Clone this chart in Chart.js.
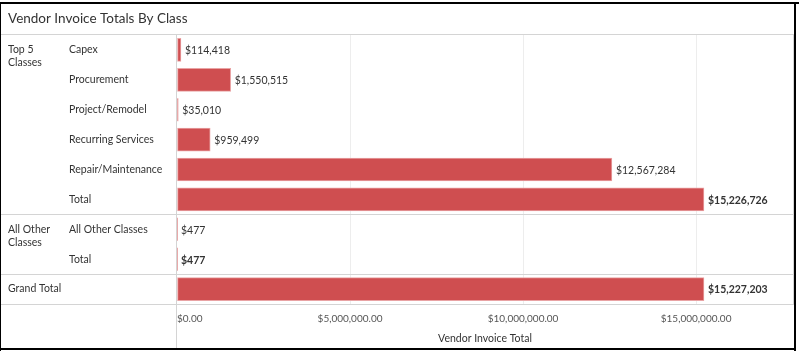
<!DOCTYPE html>
<html>
<head>
<meta charset="utf-8">
<script src="https://cdn.jsdelivr.net/npm/chart.js@4"></script>
<style>
  html, body { margin: 0; background: #fff; }
  #wrap { width: 799px; height: 352px; }
</style>
</head>
<body>
<div id="wrap"><canvas id="vendorChart" width="799" height="352"></canvas></div>
<script>
// data
const chartTitle = 'Vendor Invoice Totals By Class';
const classLabels = ['Capex', 'Procurement', 'Project/Remodel', 'Recurring Services',
  'Repair/Maintenance', 'Total', 'All Other Classes', 'Total', ''];
const invoiceTotals = [114418, 1550515, 35010, 959499, 12567284, 15226726, 477, 477, 15227203];
const groupLabels = [['Top 5', 'Classes'], ['All Other', 'Classes'], ['Grand Total']];
const groupFirstRow = [0, 6, 8];
const totalRows = [5, 7, 8];
const xTickValues = [0, 5000000, 10000000, 15000000];
const xAxisTitle = 'Vendor Invoice Total';

const FONT = 'Lato, "Open Sans", sans-serif';
const money = v => '$' + v.toLocaleString('en-US');
const moneyTick = v => '$' + v.toLocaleString('en-US', {minimumFractionDigits: 2, maximumFractionDigits: 2});

// draws the table parts round the bars: title, row headers, separators, value labels, axis text
const tablePlugin = {
  id: 'tableLayout',
  afterDraw(chart) {
    const {ctx, chartArea: a, scales: {x, y}} = chart;
    ctx.save();

    // title
    ctx.fillStyle = '#333';
    ctx.font = '13.5px ' + FONT;
    ctx.textBaseline = 'alphabetic';
    ctx.textAlign = 'left';
    ctx.fillText(chartTitle, 8, 23);

    // separators
    ctx.fillStyle = '#d4d4d4';
    ctx.fillRect(1, a.top - 1, a.right, 1);
    groupFirstRow.forEach(g => {
      if (g === 0) return;
      const yb = Math.round((y.getPixelForValue(g - 1) + y.getPixelForValue(g)) / 2);
      ctx.fillRect(1, yb, a.right, 1);
    });
    ctx.fillRect(1, a.bottom, a.right, 1);
    ctx.fillRect(a.left - 1, a.top - 1, 1, 349 - a.top);
    ctx.fillRect(a.right, a.top - 1, 1, a.bottom - a.top + 2);

    // row headers
    ctx.fillStyle = '#333';
    ctx.font = '10.5px ' + FONT;
    ctx.textBaseline = 'middle';
    groupLabels.forEach((lines, i) => {
      const y0 = y.getPixelForValue(groupFirstRow[i]);
      lines.forEach((t, k) => ctx.fillText(t, 8, y0 + k * 13));
    });
    classLabels.forEach((t, i) => {
      if (t) ctx.fillText(t, 69, y.getPixelForValue(i));
    });

    // value labels
    const meta = chart.getDatasetMeta(0);
    meta.data.forEach((bar, i) => {
      ctx.font = (totalRows.includes(i) ? 'bold ' : '') + '10.5px ' + FONT;
      ctx.fillStyle = '#333';
      ctx.fillText(money(invoiceTotals[i]), bar.x + 4, bar.y + 1);
    });

    // x ticks + title
    ctx.font = '10px ' + FONT;
    ctx.fillStyle = '#555';
    xTickValues.forEach((v, i) => {
      ctx.textAlign = i === 0 ? 'left' : 'center';
      ctx.fillText(moneyTick(v), x.getPixelForValue(v), 319);
    });
    ctx.textAlign = 'center';
    ctx.fillStyle = '#333';
    ctx.font = '10.5px ' + FONT;
    ctx.fillText(xAxisTitle, (a.left + a.right) / 2, 339);

    // outer frame
    ctx.fillStyle = '#000';
    ctx.fillRect(0, 2, 799, 2);
    ctx.fillRect(0, 2, 1, 349);
    ctx.fillRect(794, 2, 2, 349);
    ctx.fillRect(0, 348, 796, 2);
    ctx.restore();
  }
};

new Chart(document.getElementById('vendorChart'), {
  type: 'bar',
  data: {
    labels: classLabels.map((c, i) => c || 'Grand Total'),
    datasets: [{
      data: invoiceTotals,
      backgroundColor: '#CF4E50',
      borderColor: '#E9A3A4',
      borderWidth: c => c.raw < 1000 ? 0 : 1,
      borderSkipped: false,
      inflateAmount: c => c.raw < 1000 ? 0 : 0.33,
      barThickness: 23
    }]
  },
  options: {
    indexAxis: 'y',
    responsive: false,
    animation: false,
    devicePixelRatio: 1,
    layout: { padding: { left: 177, top: 35, right: 6, bottom: 48 } },
    plugins: { legend: { display: false }, tooltip: { enabled: false } },
    scales: {
      x: {
        min: 0, max: 17800000,
        afterBuildTicks: s => { s.ticks = xTickValues.map(v => ({value: v})); },
        ticks: { display: false },
        grid: { color: c => c.tick && c.tick.value > 0 ? '#ededed' : 'rgba(0,0,0,0)', drawTicks: false },
        border: { display: false }
      },
      y: { display: false }
    }
  },
  plugins: [tablePlugin]
});
</script>
</body>
</html>
